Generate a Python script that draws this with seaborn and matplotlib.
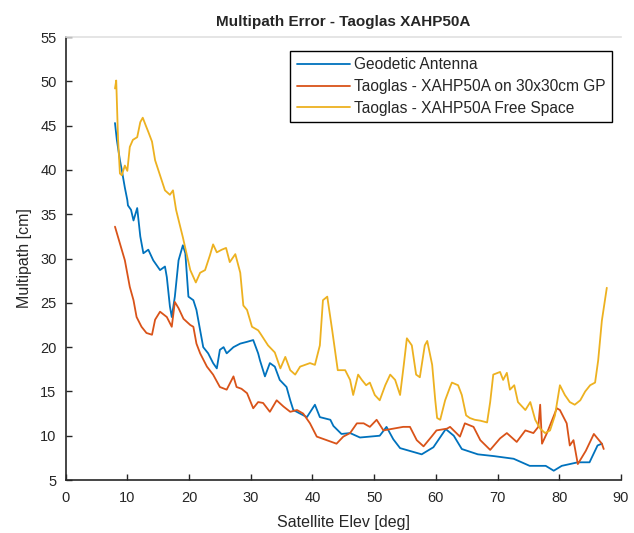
import matplotlib
matplotlib.use("Agg")
import matplotlib.pyplot as plt
import pandas as pd
import seaborn as sns

# (elevation deg, multipath cm)
geo_elev = [8.0, 8.3, 8.8, 9.1, 9.6, 10.0, 10.1, 10.6, 11.0, 11.6, 12.1, 12.6, 13.4, 14.2,
            15.3, 16.1, 16.4, 16.9, 17.2, 17.7, 18.3, 19.0, 19.4, 19.9, 20.7, 21.2, 21.8,
            22.3, 23.1, 23.9, 24.5, 25.0, 25.6, 26.1, 27.2, 28.3, 29.4, 30.4, 31.2, 31.5,
            32.3, 33.1, 33.9, 34.7, 35.8, 36.4, 36.9, 38.0, 39.1, 40.4, 41.2, 42.9, 43.4,
            44.7, 46.1, 47.7, 49.3, 50.9, 52.0, 53.1, 54.2, 55.7, 57.7, 59.6, 61.6, 62.9,
            64.2, 66.8, 69.4, 72.6, 75.2, 77.8, 79.1, 80.4, 83.0, 84.9, 86.2, 86.9]
geo_mp = [45.3, 43.4, 41.1, 40.0, 38.0, 36.6, 36.0, 35.5, 34.3, 35.7, 32.5, 30.6, 31.0, 29.8,
          28.7, 29.1, 27.9, 24.6, 23.4, 25.7, 29.8, 31.5, 30.6, 25.7, 25.3, 24.2, 21.9,
          20.0, 19.3, 18.2, 17.6, 19.7, 20.0, 19.3, 20.0, 20.4, 20.6, 20.8, 19.3, 18.5,
          16.7, 18.2, 17.8, 16.3, 15.5, 14.0, 12.9, 12.5, 12.1, 13.5, 12.1, 11.8, 11.1,
          10.2, 10.3, 9.8, 9.9, 10.0, 11.0, 9.6, 8.6, 8.3, 7.9, 8.7, 10.75, 10.0,
          8.5, 7.9, 7.7, 7.4, 6.6, 6.6, 6.05, 6.6, 7.0, 7.0, 8.9, 9.1]

gp_elev = [8.0, 8.8, 9.6, 10.4, 11.0, 11.5, 12.3, 13.1, 14.0, 14.5, 15.3, 16.4, 17.2, 17.7,
           18.3, 19.1, 20.2, 20.7, 21.2, 21.8, 22.9, 23.9, 25.0, 26.1, 27.2, 27.7, 28.5,
           29.4, 30.4, 31.2, 32.0, 33.1, 34.2, 35.3, 36.4, 37.5, 38.5, 39.6, 40.7, 42.3,
           43.9, 45.0, 46.1, 47.2, 48.3, 49.3, 50.4, 51.5, 53.1, 54.7, 55.8, 56.9, 58.0,
           59.3, 60.1, 61.8, 62.3, 63.9, 64.7, 66.1, 67.2, 68.8, 70.4, 71.5, 73.1, 74.5,
           75.8, 76.6, 76.9, 77.2, 78.0, 79.6, 80.1, 81.2, 81.7, 82.3, 83.0, 84.3, 85.6,
           86.9, 87.2]
gp_mp = [33.6, 31.7, 29.8, 26.8, 25.3, 23.4, 22.3, 21.6, 21.4, 23.1, 24.0, 23.4, 22.3, 25.1,
         24.4, 23.2, 22.5, 22.3, 20.4, 19.3, 17.8, 16.9, 15.5, 15.2, 16.7, 15.5, 15.3,
         14.8, 13.1, 13.8, 13.7, 12.7, 14.0, 13.3, 12.7, 12.9, 12.5, 11.4, 9.9, 9.5,
         9.1, 9.9, 10.3, 11.4, 11.4, 11.0, 11.8, 10.6, 10.8, 11.0, 11.0, 9.5, 8.8,
         9.9, 10.6, 10.8, 11.0, 9.9, 11.4, 11.0, 9.5, 8.4, 9.7, 10.3, 9.3, 10.6,
         10.3, 11.0, 13.5, 9.1, 10.3, 13.1, 12.9, 11.4, 8.9, 9.5, 6.8, 8.3, 10.2,
         9.1, 8.5]

fs_elev = [8.0, 8.2, 8.5, 8.8, 9.1, 9.6, 10.0, 10.4, 10.9, 11.6, 12.1, 12.5, 13.0, 13.4,
           14.0, 14.5, 15.3, 16.1, 16.9, 17.4, 17.9, 18.5, 19.0, 20.2, 21.1, 21.8, 22.6,
           23.4, 23.9, 24.5, 25.3, 26.0, 26.6, 27.5, 28.3, 28.8, 29.4, 30.2, 31.2, 31.5,
           32.8, 33.9, 34.8, 35.6, 36.4, 37.2, 38.0, 38.8, 39.6, 40.4, 41.2, 41.7, 42.4,
           43.2, 44.1, 45.3, 46.1, 46.6, 47.4, 48.0, 48.7, 49.3, 50.1, 50.9, 51.8, 52.6,
           53.4, 54.2, 54.8, 55.3, 56.1, 56.8, 57.4, 58.2, 58.6, 59.4, 59.9, 60.2, 60.7,
           61.5, 62.3, 62.6, 63.6, 64.2, 64.9, 65.5, 66.3, 67.2, 68.3, 68.8, 69.3, 70.4,
           70.9, 71.5, 72.0, 72.7, 73.3, 74.5, 75.3, 76.1, 76.9, 77.7, 78.5, 79.3, 80.1,
           80.9, 81.7, 82.5, 83.4, 84.2, 85.0, 85.8, 86.3, 86.9, 87.7]
fs_mp = [49.2, 50.1, 43.4, 39.6, 39.4, 40.5, 39.9, 42.6, 43.4, 43.7, 45.4, 45.9, 45.0, 44.3,
         43.2, 41.1, 39.4, 37.7, 37.2, 37.7, 35.5, 33.8, 32.4, 28.7, 27.3, 28.4, 28.7,
         30.4, 31.6, 30.7, 31.0, 31.2, 29.6, 30.5, 28.4, 24.7, 24.2, 22.3, 21.9, 21.6,
         20.2, 19.4, 17.6, 18.9, 17.4, 16.9, 17.8, 18.0, 18.2, 18.0, 20.2, 25.3, 25.7,
         21.9, 17.4, 17.4, 16.3, 14.6, 16.9, 16.3, 15.7, 16.0, 14.6, 14.0, 15.7, 16.9,
         16.3, 14.6, 18.0, 21.0, 20.2, 16.9, 16.6, 20.2, 20.7, 18.0, 14.0, 12.0, 11.8,
         14.0, 15.5, 16.0, 15.7, 14.6, 12.3, 12.0, 11.8, 11.7, 11.5, 13.8, 16.9, 17.2,
         16.3, 17.1, 15.2, 15.7, 13.8, 12.9, 13.8, 11.8, 10.8, 10.3, 10.6, 12.3, 15.7,
         14.6, 13.8, 13.5, 14.0, 15.0, 15.7, 16.0, 18.5, 23.0, 26.7]

labels = ["Geodetic Antenna",
          "Taoglas - XAHP50A on 30x30cm GP",
          "Taoglas - XAHP50A Free Space"]
colors = ["#0072BD", "#D95319", "#EDB120"]

sns.set_theme(style="ticks")
plt.rcParams["font.family"] = ["Liberation Sans", "DejaVu Sans"]

fig = plt.figure(figsize=(6.34, 5.33), dpi=100)
ax = fig.add_axes([0.1035, 0.0994, 0.876, 0.831])

series = [(geo_elev, geo_mp), (gp_elev, gp_mp), (fs_elev, fs_mp)]
for (xs, ys), lab, col in zip(series, labels, colors):
    sns.lineplot(x=xs, y=ys, ax=ax, color=col, linewidth=1.3, label=lab,
                 sort=False, estimator=None)

ax.set_xlim(0, 90)
ax.set_ylim(5, 55)
ax.set_xticks(range(0, 91, 10))
ax.set_yticks(range(5, 56, 5))
ax.tick_params(direction="in", length=4, width=1, colors="#262626", labelsize=10.5)
ax.tick_params(axis="x", pad=8)
ax.tick_params(axis="y", pad=6.5)
for s in ["left", "bottom"]:
    ax.spines[s].set_color("#262626")
    ax.spines[s].set_linewidth(1.2)
ax.spines["right"].set_visible(False)
ax.spines["top"].set_color("#e0e0e0")
ax.spines["top"].set_linewidth(1.2)

ax.set_xlabel("Satellite Elev [deg]", fontsize=11.5, color="#262626", labelpad=7)
ax.set_ylabel("Multipath [cm]", fontsize=11.5, color="#262626", labelpad=6)
ax.set_title("Multipath Error - Taoglas XAHP50A", fontsize=11, fontweight="bold", pad=8)

leg = ax.legend(loc="upper right", bbox_to_anchor=(0.984, 0.968), borderaxespad=0,
                fancybox=False, edgecolor="black", framealpha=1, fontsize=11.2,
                handlelength=3.4, handletextpad=0.3, labelspacing=0.42,
                borderpad=0.4)
leg.get_frame().set_linewidth(1.0)

fig.savefig("out.png", dpi=100)
